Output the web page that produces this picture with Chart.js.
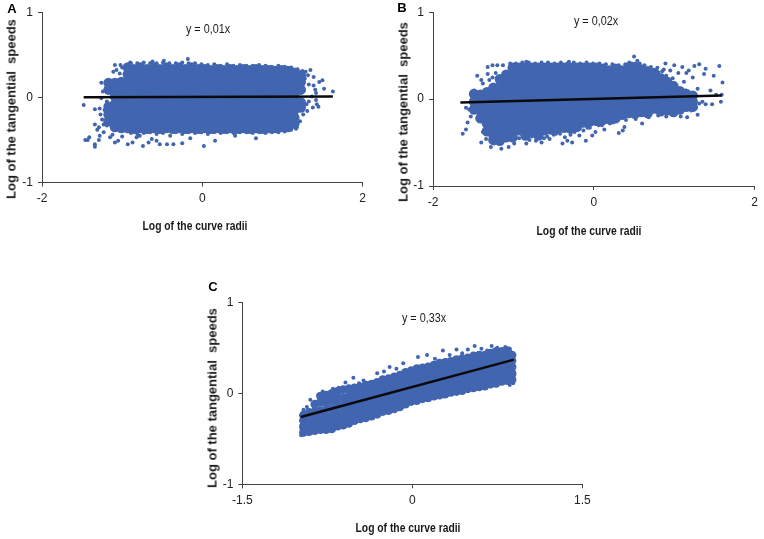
<!DOCTYPE html>
<html>
<head>
<meta charset="utf-8">
<script src="https://cdn.jsdelivr.net/npm/chart.js@4/dist/chart.umd.min.js"></script>
<style>
body { margin: 0; background: #fff; }
canvas { position: absolute; }
.txt { position: absolute; white-space: nowrap; font-family: "Liberation Sans", Arial, sans-serif; color: #1a1a1a; transform-origin: center; }
.eq { font-size: 12px; transform: translate(-50%, -50%) scaleX(.9); }
.letter { font-size: 13px; font-weight: bold; transform: translate(-50%, -50%); color: #000; }
.xt { font-size: 12px; font-weight: bold; transform: translate(-50%, -50%) scaleX(.86); }
.yt { font-size: 13px; font-weight: bold; transform: translate(-50%, -50%) rotate(-90deg); }
</style>
</head>
<body>
<canvas id="panel_a" width="382" height="240" style="left:0;top:0"></canvas>
<canvas id="panel_b" width="382" height="240" style="left:382px;top:0"></canvas>
<canvas id="panel_c" width="420" height="264" style="left:190px;top:275px"></canvas>
<div class="txt letter" style="left:12px;top:8px">A</div>
<div class="txt letter" style="left:402px;top:7px">B</div>
<div class="txt letter" style="left:213px;top:286px">C</div>
<div class="txt eq" style="left:208px;top:29px">y = 0,01x</div>
<div class="txt eq" style="left:596px;top:21px">y = 0,02x</div>
<div class="txt eq" style="left:424px;top:318px">y = 0,33x</div>
<div class="txt xt" style="left:195px;top:226px">Log of the curve radii</div>
<div class="txt xt" style="left:589px;top:231px">Log of the curve radii</div>
<div class="txt xt" style="left:408px;top:528px">Log of the curve radii</div>
<div class="txt yt" style="left:11px;top:109px">Log of the tangential&nbsp; speeds</div>
<div class="txt yt" style="left:403px;top:112px">Log of the tangential&nbsp; speeds</div>
<div class="txt yt" style="left:212px;top:398px">Log of the tangential&nbsp; speeds</div>
<script>
// dense part of each cloud, one row per column: [x, y, y, ...]
const a_core = [
[-1.17,.17,.09,-.11,-.2,-.28],
[-1.09,.17,.1,.01,-.08,-.17,-.26,-.35],
[-1.01,.18,.09,0,-.09,-.18,-.27,-.36],
[-.93,.35,.27,.18,.09,0,-.09,-.18,-.27,-.36],
[-.85,.33,.24,.15,.06,-.03,-.12,-.21,-.3,-.37],
[-.77,.35,.27,.18,.09,0,-.09,-.18,-.27,-.36],
[-.69,.33,.24,.15,.06,-.03,-.12,-.21,-.3,-.37],
[-.61,.35,.27,.18,.09,0,-.09,-.18,-.27,-.36],
[-.53,.33,.24,.15,.06,-.03,-.12,-.21,-.3,-.37],
[-.45,.35,.27,.18,.09,0,-.09,-.18,-.27,-.36],
[-.37,.33,.24,.15,.06,-.03,-.12,-.21,-.3,-.37],
[-.29,.35,.27,.18,.09,0,-.09,-.18,-.27,-.36],
[-.21,.33,.24,.15,.06,-.03,-.12,-.21,-.3,-.37],
[-.13,.35,.27,.18,.09,0,-.09,-.18,-.27,-.36],
[-.05,.33,.24,.15,.06,-.03,-.12,-.21,-.3,-.37],
[.03,.33,.27,.18,.09,0,-.09,-.18,-.27,-.36],
[.11,.32,.24,.15,.06,-.03,-.12,-.21,-.3,-.37],
[.19,.33,.27,.18,.09,0,-.09,-.18,-.27,-.36],
[.27,.32,.24,.15,.06,-.03,-.12,-.21,-.3,-.37],
[.35,.33,.27,.18,.09,0,-.09,-.18,-.27,-.36],
[.43,.32,.24,.15,.06,-.03,-.12,-.21,-.3,-.37],
[.51,.33,.27,.18,.09,0,-.09,-.18,-.27,-.36],
[.59,.32,.24,.15,.06,-.03,-.12,-.21,-.3,-.37],
[.67,.33,.27,.18,.09,0,-.09,-.18,-.27,-.36],
[.75,.32,.24,.15,.06,-.03,-.12,-.21,-.3,-.37],
[.83,.32,.27,.18,.09,0,-.09,-.18,-.27,-.36],
[.91,.31,.24,.15,.06,-.03,-.12,-.21,-.3,-.36],
[.99,.32,.27,.18,.09,0,-.09,-.18,-.27,-.35],
[1.07,.31,.24,.15,.06,-.03,-.12,-.21,-.3,-.35],
[1.15,.29,.21,.12,.03,-.06,-.15,-.24,-.31],
[1.23,.26,.18,.09,-.06,-.12]
];
const a_edge = [
[-1.48,-.09],[-1.46,-.5],[-1.41,-.47],[-1.43,-.5],[-1.34,-.55],[-1.34,-.58],[-1.29,-.5],[-1.28,-.45],[-1.23,-.41],[-1.34,-.32],[-1.29,-.35],
[-1.23,-.32],[-1.19,-.33],[-1.25,-.26],[-1.34,-.14],[-1.28,-.13],[-1.26,.17],[-1.24,.07],[-1.19,.09],[-1.26,-.01],[-1.19,-.05],[-1.31,-.38],
[-1.27,-.2],[-1.22,-.15],[-1.09,.38],[-1.02,.38],[-1.07,.32],[-1.11,.3],[-1.03,.28],[-1,.35],[-1.15,-.47],[-1.09,-.53],[-1.05,-.51],
[-1.12,-.44],[-1,-.46],[-.93,-.55],[-.87,-.53],[-.82,-.47],[-.78,-.45],[-.74,-.57],[-.67,-.53],[-.63,-.49],[-.57,-.51],[-.53,-.55],[-.44,-.55],
[-.36,-.55],[-.25,-.54],[-.4,-.45],[-.15,-.48],[.02,-.57],[.16,-.51],[.41,-.45],[.67,-.48],[-.18,.45],[-.48,.43],[-.62,.42],[-.9,.41],
[1.35,.32],[1.5,.2],[1.46,.18],[1.52,.1],[1.63,.07],[1.43,-.08],[1.31,-.16],[1.39,.24],[1.41,.09],[1.37,.01],[1.33,-.05],[1.42,-.03],
[1.29,.3],[1.33,.15],[1.39,.14],[1.28,.22],[1.26,.08],[1.3,-.08],[1.26,-.2],[1.18,-.35],[1.22,-.28],[1.38,-.12],[1.45,-.11],[1.32,.26],[1.42,.05],
[-.89,.4],[-.81,.4],[-.73,.41],[-.65,.4],[-.57,.4],[-.49,.41],[-.41,.4],[-.33,.4],[-.25,.41],[-.17,.4],[-.09,.4],[-.01,.39],[.07,.38],[.15,.39],
[.23,.37],[.31,.39],[.39,.37],[.47,.38],[.55,.37],[.63,.37],[.71,.38],[.79,.37],[.87,.36],[.95,.37],[1.03,.36],[1.11,.35],[1.19,.33],[1.25,.31],
[-.89,-.42],[-.81,-.43],[-.73,-.42],[-.65,-.41],[-.57,-.43],[-.49,-.42],[-.33,-.41],[-.25,-.43],[-.17,-.41],[-.09,-.42],[-.01,-.41],[.07,-.43],
[.15,-.41],[.23,-.42],[.31,-.41],[.39,-.42],[.47,-.41],[.55,-.41],[.63,-.42],[.71,-.41],[.79,-.42],[.87,-.41],[.95,-.41],[1.03,-.4],[1.11,-.38],[1.17,-.37]
];
const a_line_x = [-1.48, 1.63];
const a_line_y = [0, .01];

const b_core = [
[-1.49,.06,-.03,-.12],
[-1.41,.05,-.04,-.13,-.22],
[-1.33,.08,-.01,-.1,-.19,-.28,-.37],
[-1.25,.13,.04,-.05,-.14,-.23,-.32,-.41,-.47],
[-1.17,.23,.14,.05,-.04,-.13,-.22,-.31,-.4,-.48],
[-1.09,.28,.19,.1,.01,-.08,-.17,-.26,-.35,-.44],
[-1.01,.36,.28,.19,.1,.01,-.08,-.17,-.26,-.35,-.44],
[-.93,.36,.27,.18,.09,0,-.09,-.18,-.27,-.36],
[-.85,.36,.28,.19,.1,.01,-.08,-.17,-.26,-.35,-.42],
[-.77,.36,.27,.18,.09,0,-.09,-.18,-.27,-.37],
[-.69,.36,.28,.19,.1,.01,-.08,-.17,-.26,-.34,-.42],
[-.61,.36,.27,.18,.09,0,-.09,-.18,-.27,-.36],
[-.53,.36,.28,.19,.1,.01,-.08,-.17,-.26,-.35],
[-.45,.36,.27,.18,.09,0,-.09,-.18,-.27,-.34],
[-.37,.36,.28,.19,.1,.01,-.08,-.17,-.26,-.33],
[-.29,.36,.27,.18,.09,0,-.09,-.18,-.27,-.34],
[-.21,.36,.28,.19,.1,.01,-.08,-.17,-.26,-.32],
[-.13,.36,.27,.18,.09,0,-.09,-.18,-.27],
[-.05,.36,.28,.19,.1,.01,-.08,-.17,-.26],
[.03,.36,.27,.18,.09,0,-.09,-.18,-.25],
[.11,.35,.28,.19,.1,.01,-.08,-.17,-.24],
[.19,.33,.27,.18,.09,0,-.09,-.18,-.23],
[.27,.35,.28,.19,.1,.01,-.08,-.17,-.22],
[.35,.33,.25,.18,.09,0,-.09,-.18],
[.43,.36,.28,.19,.1,.01,-.08,-.16],
[.51,.37,.27,.18,.09,0,-.09,-.17],
[.59,.34,.26,.19,.1,.01,-.08,-.15],
[.67,.32,.24,.16,.09,0,-.09,-.16],
[.75,.3,.22,.14,.06,-.03,-.11],
[.83,.24,.17,.08,0,-.08,-.14],
[.91,.2,.12,.03,-.05,-.13],
[.99,.15,.07,-.01,-.09,-.15],
[1.07,.09,.02,-.06,-.12],
[1.15,.06,-.02,-.09],
[1.23,.04,-.03,-.09]
];
const b_edge = [
[-1.63,-.4],[-1.59,-.35],[-1.57,-.27],[-1.53,-.2],[-1.59,-.1],[-1.55,-.12],[-1.49,.1],[-1.45,.27],[-1.4,.22],[-1.38,.18],[-1.32,.29],[-1.32,.37],
[-1.26,.39],[-1.2,.39],[-1.13,.39],[-1.3,.22],[-1.22,.3],[-1.26,.25],[-1.4,-.5],[-1.38,-.38],[-1.34,-.46],[-1.28,-.55],[-1.24,-.51],[-1.15,-.57],
[-1.06,-.55],[-.99,-.51],[-.84,-.51],[-.72,-.48],[-.65,-.5],[-.55,-.46],[-.47,-.4],[-.39,-.51],[-.33,-.48],[-.27,-.5],[-.18,-.42],[-.1,-.48],
[-.02,-.42],[.02,-.38],[.13,-.35],[.31,-.39],[.38,-.32],[.36,-.36],[.6,-.28],[-.58,-.43],[-.42,-.4],[-.24,-.38],[-.08,-.33],[.06,-.3],[.2,-.28],
[.5,.49],[.44,.42],[.54,.44],[-.31,.43],[-.84,.43],[1.56,.38],[1.6,.19],[1.49,.27],[1.39,.35],[1.31,.4],[1.25,.38],[1.18,.33],[1.1,.37],[1,.39],
[.89,.41],[1.12,.2],[1.23,.25],[1.37,.29],[1.14,.1],[1.29,.12],[1.45,.1],[1.52,.05],[1.58,-.03],[1.47,-.06],[1.35,-.03],[1.29,-.18],[1.16,-.21],
[1.08,-.2],[1.02,-.14],[1.39,-.06],[1.59,.05],[1.23,.01],[1.31,-.05],[1.27,-.1],[.95,.33],[1.05,.3],[1.15,.3],[.85,.32],[.98,.24],[1.21,-.13],[.9,-.2],
[-1.04,.41],[-.97,.41],[-.89,.42],[-.81,.42],[-.73,.41],[-.65,.42],[-.57,.42],[-.49,.41],[-.41,.42],[-.33,.41],[-.25,.42],[-.17,.41],[-.09,.42],[-.01,.41],
[.07,.41],[.15,.4],[.23,.4],[.31,.39],[.39,.4],[.47,.41],[.57,.41],[.63,.39],[.71,.37],[.79,.36],[.87,.34],[.8,.31],[.9,.27],
[-.93,-.45],[-.8,-.47],[-.77,-.43],[-.62,-.45],[-.5,-.41],[-.36,-.44],[-.29,-.41],[-.13,-.36],[-.05,-.33],[.1,-.3],[.24,-.27],[.4,-.24],[.52,-.23],[.68,-.21],[.8,-.19]
];
const b_line_x = [-1.66, 1.59];
const b_line_y = [-.04, .04];

const c_core = [
[-.96,-.43,-.36,-.3,-.24],
[-.91,-.42,-.35,-.28,-.21],
[-.86,-.41,-.34,-.27,-.2,-.12],
[-.81,-.4,-.33,-.26,-.19,-.1,-.03],
[-.76,-.4,-.33,-.26,-.18,-.1,-.02],
[-.71,-.39,-.32,-.25,-.17,-.08,0],
[-.66,-.36,-.29,-.22,-.14,-.06,.02],
[-.61,-.35,-.28,-.21,-.13,-.05,.04],
[-.56,-.33,-.26,-.19,-.11,-.03,.05],
[-.51,-.3,-.23,-.16,-.09,-.01,.06],
[-.46,-.28,-.21,-.14,-.07,0,.07],
[-.41,-.27,-.2,-.13,-.06,.02,.09],
[-.36,-.25,-.18,-.11,-.04,.03,.1],
[-.31,-.23,-.16,-.09,-.02,.05,.12],
[-.26,-.2,-.13,-.06,.01,.08,.15],
[-.21,-.19,-.12,-.05,.02,.09,.16],
[-.16,-.17,-.1,-.03,.04,.11,.18],
[-.11,-.15,-.08,-.01,.06,.13,.2],
[-.06,-.12,-.05,.02,.09,.16,.23],
[-.01,-.09,-.02,.05,.12,.19,.25],
[.04,-.08,-.01,.06,.13,.2,.27],
[.09,-.06,.01,.08,.15,.22,.28],
[.14,-.05,.02,.09,.16,.23,.29],
[.19,-.03,.04,.11,.18,.25,.31],
[.24,-.02,.05,.12,.19,.26,.33],
[.29,-.01,.06,.13,.2,.27,.34],
[.34,.01,.08,.15,.22,.29,.35],
[.39,.02,.09,.16,.23,.3,.37],
[.44,.03,.1,.17,.24,.31,.38],
[.49,.05,.12,.19,.26,.33,.39],
[.54,.06,.13,.2,.27,.34,.41],
[.59,.07,.14,.21,.28,.35,.42],
[.64,.08,.15,.22,.29,.36,.42],
[.69,.1,.17,.24,.31,.38,.44],
[.74,.11,.18,.25,.32,.39,.46],
[.79,.13,.2,.27,.34,.41,.46],
[.84,.14,.21,.28,.35,.42,.47],
[.88,.15,.22,.29,.36,.42]
];
const c_edge = [
[-.96,-.18],[-.93,-.15],[-.9,-.07],[-.83,-.02],[-.79,.02],[-.7,.05],[-.59,.12],[-.52,.17],[-.43,.14],[-.31,.22],[-.2,.29],[-.08,.33],
[.05,.4],[.13,.42],[.27,.47],[.39,.48],[.55,.52],[.7,.52],[.61,.49],[.49,.48],[.82,.51],[.86,.49],[.89,.42],[.9,.2],[.89,.11],[.86,.09],
[.79,.11],[-.98,-.46],[-.98,-.38],[-.98,-.3],[-.65,.06],[-.47,.11],[-.25,.24],[-.14,.27],[.2,.38],[.33,.42],[.44,.44],[.75,.5],[.66,.47]
];
const c_line_x = [-.985, .897];
const c_line_y = [-.26, .37];

const blue = '#4265b0';
const to_points = cols => cols.flatMap(([x, ...ys]) => ys.map(y => ({x: x, y: y})));
const pair_points = pairs => pairs.map(([x, y]) => ({x: x, y: y}));
const line_points = (xs, ys) => xs.map((x, i) => ({x: x, y: ys[i]}));

function make_panel(id, core, edge, line, x_limit, core_size, y_width, x_height, padding) {
    new Chart(document.getElementById(id), {
        type: 'scatter',
        data: {
            datasets: [
                {data: line, showLine: true, borderColor: '#0a0a0a', borderWidth: 2.5, pointRadius: 0, order: 0},
                {data: pair_points(edge), backgroundColor: blue, borderWidth: 0, pointRadius: 2, order: 1},
                {data: to_points(core), backgroundColor: blue, borderWidth: 0, pointRadius: core_size, order: 2}
            ]
        },
        options: {
            responsive: false,
            animation: false,
            layout: {padding: padding},
            plugins: {legend: {display: false}, tooltip: {enabled: false}},
            scales: {
                x: {
                    min: -x_limit, max: x_limit,
                    ticks: {stepSize: x_limit, color: '#222', font: {family: 'Liberation Sans', size: 12}, maxRotation: 0, padding: 5},
                    grid: {drawOnChartArea: false, color: '#444', tickLength: 4},
                    border: {color: '#444'},
                    afterFit: s => { s.height = x_height; }
                },
                y: {
                    min: -1, max: 1,
                    ticks: {stepSize: 1, color: '#222', font: {family: 'Liberation Sans', size: 12}, padding: 5},
                    grid: {drawOnChartArea: false, color: '#444', tickLength: 4},
                    border: {color: '#444'},
                    afterFit: s => { s.width = y_width; }
                }
            }
        }
    });
}

make_panel('panel_a', a_core, a_edge, line_points(a_line_x, a_line_y), 2, 5.2, 42, 57.5, {top: 9, right: 19.5});
make_panel('panel_b', b_core, b_edge, line_points(b_line_x, b_line_y), 2, 5.2, 51, 54, {top: 8.7, right: 9.3});
make_panel('panel_c', c_core, c_edge, line_points(c_line_x, c_line_y), 1.5, 4.4, 52.3, 54.7, {top: 27.3, right: 27.7});
</script>
</body>
</html>
